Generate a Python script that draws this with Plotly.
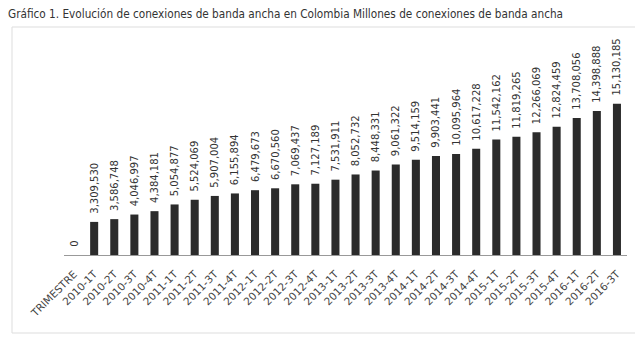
import plotly.graph_objects as go

categories = ["TRIMESTRE",
              "2010-1T", "2010-2T", "2010-3T", "2010-4T",
              "2011-1T", "2011-2T", "2011-3T", "2011-4T",
              "2012-1T", "2012-2T", "2012-3T", "2012-4T",
              "2013-1T", "2013-2T", "2013-3T", "2013-4T",
              "2014-1T", "2014-2T", "2014-3T", "2014-4T",
              "2015-1T", "2015-2T", "2015-3T", "2015-4T",
              "2016-1T", "2016-2T", "2016-3T"]
values = [0,
          3309530, 3586748, 4046997, 4384181,
          5054877, 5524069, 5907004, 6155894,
          6479673, 6670560, 7069437, 7127189,
          7531911, 8052732, 8448331, 9061322,
          9514159, 9903441, 10095964, 10617228,
          11542162, 11819265, 12266069, 12824459,
          13708056, 14398888, 15130185]
labels = ["\u00a0\u2009" + f"{v:,}" for v in values]

# page body adds an 8px offset; figure coords = reference coords - 8
W, H = 635, 329
PL, PR, PT, PB = 56, 619, 22, 247

fig = go.Figure(go.Bar(
    x=categories, y=values, text=labels, textposition="outside",
    textangle=-90, cliponaxis=False, constraintext="none",
    textfont=dict(family="DejaVu Sans, Open Sans", size=10, color="#333333"),
    marker=dict(color="#2b2b2b", line=dict(width=0)),
))

fig.update_layout(
    width=W, height=H,
    paper_bgcolor="white", plot_bgcolor="white",
    margin=dict(l=PL, r=W - PR, t=PT, b=H - PB, autoexpand=False),
    bargap=0.6,
    showlegend=False,
    title=dict(text="Gráfico 1. Evolución de conexiones de banda ancha en Colombia Millones de conexiones de banda ancha",
               x=0.0, xanchor="left", y=1 - 6 / H, yanchor="middle",
               font=dict(family="Liberation Sans Narrow, DejaVu Sans Condensed, Arial Narrow", size=11.7, color="#333333")),
    xaxis=dict(tickangle=-45, showline=True, linecolor="#999999", linewidth=1,
               ticks="", showgrid=False, automargin=False, ticklabelstandoff=8,
               tickfont=dict(family="DejaVu Sans, Open Sans", size=10.5, color="#444444")),
    yaxis=dict(range=[0, 22.5e6], showticklabels=False, showgrid=False,
               zeroline=False, showline=False, automargin=False),
    shapes=[dict(type="rect", xref="paper", yref="paper",
                 x0=(4 - PL) / (PR - PL), x1=(632 - PL) / (PR - PL),
                 y0=-(325 - PB) / (PB - PT), y1=1 + (PT - 19) / (PB - PT),
                 line=dict(color="#dddddd", width=1))],
)

fig.write_html("out.html")
